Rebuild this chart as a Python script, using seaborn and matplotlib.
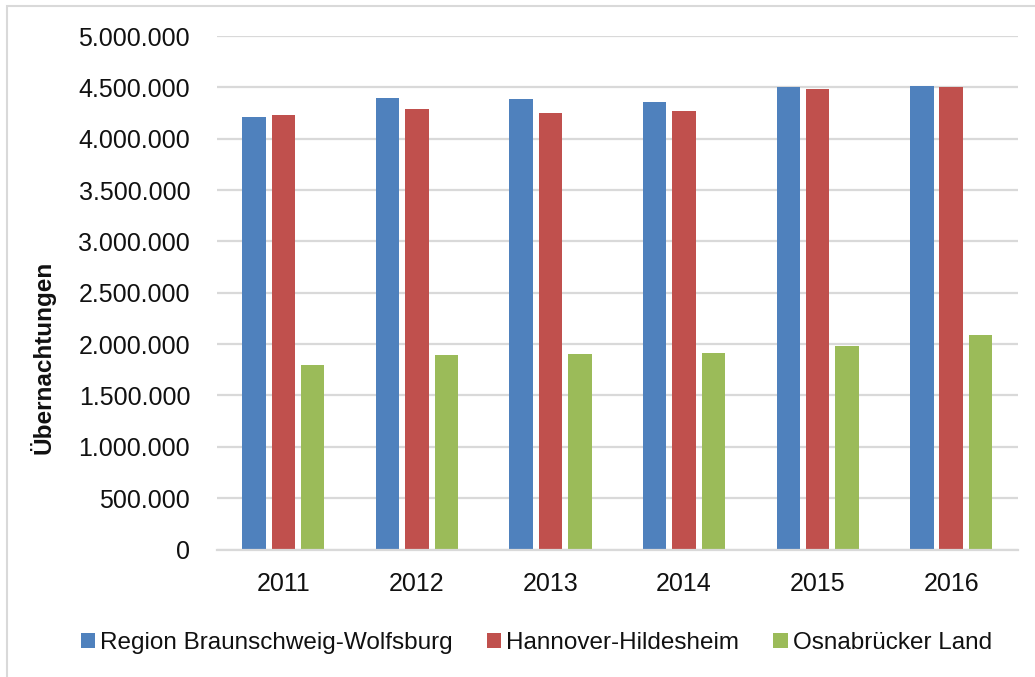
import pandas as pd
import matplotlib.pyplot as plt
import seaborn as sns
from matplotlib.patches import Rectangle
from matplotlib.ticker import FuncFormatter

# Data
years = ["2011", "2012", "2013", "2014", "2015", "2016"]
regions = ["Region Braunschweig-Wolfsburg", "Hannover-Hildesheim", "Osnabrücker Land"]
braunschweig = [4211000, 4396000, 4389000, 4357000, 4503000, 4513000]
hannover = [4233000, 4286000, 4250000, 4272000, 4481000, 4503000]
osnabrueck = [1801000, 1893000, 1906000, 1918000, 1977000, 2090000]
colors = ["#4F81BD", "#C0504D", "#9BBB59"]

df = pd.DataFrame({
    "Jahr": years * 3,
    "Region": [regions[0]] * 6 + [regions[1]] * 6 + [regions[2]] * 6,
    "Übernachtungen": braunschweig + hannover + osnabrueck,
})

sns.set_theme(style="white")
plt.rcParams["font.family"] = ["Liberation Sans", "DejaVu Sans"]

fig = plt.figure(figsize=(10.35, 6.77), dpi=100)
ax = fig.add_axes([0.2092, 0.1883, 0.7744, 0.7585])

sns.barplot(
    data=df, x="Jahr", y="Übernachtungen", hue="Region",
    palette=colors, width=0.66, gap=0.2, ax=ax, legend=True,
    saturation=1, edgecolor="none",
)

ax.set_ylim(0, 5000000)
ax.set_xlim(-0.5, 5.5)
ax.set_yticks(range(0, 5000001, 500000))
ax.yaxis.set_major_formatter(FuncFormatter(lambda v, p: f"{int(v):,}".replace(",", ".")))
ax.grid(axis="y", color="#d9d9d9", linewidth=1.6)
ax.set_axisbelow(True)
for s in ["left", "right", "top"]:
    ax.spines[s].set_visible(False)
ax.spines["bottom"].set_color("#d9d9d9")
ax.spines["bottom"].set_linewidth(1.6)
ax.tick_params(axis="y", length=0, pad=19, labelsize=18, labelcolor="#111111")
ax.tick_params(axis="x", length=0, pad=16, labelsize=18, labelcolor="#111111")

ax.set_xlabel("")
ax.set_ylabel("Übernachtungen", fontsize=17.5, fontweight="bold", color="#111111")
ax.yaxis.set_label_coords(-0.201, 0.375)

# Legend below the plot
handles, labels = ax.get_legend_handles_labels()
ax.get_legend().remove()
fig.legend(
    handles, labels, loc="center", bbox_to_anchor=(0.518, 0.05), ncol=3,
    frameon=False, fontsize=17.5, handlelength=0.6, handleheight=0.6,
    handletextpad=0.2, columnspacing=1.4, labelcolor="#111111",
)

# Light outer border of the chart area
fig.patches.append(Rectangle((7 / 1035, -0.1), 1.2, 1.1 - 6 / 677, transform=fig.transFigure,
                             fill=False, edgecolor="#d9d9d9", linewidth=1.5))

fig.savefig("out.png", dpi=100)
